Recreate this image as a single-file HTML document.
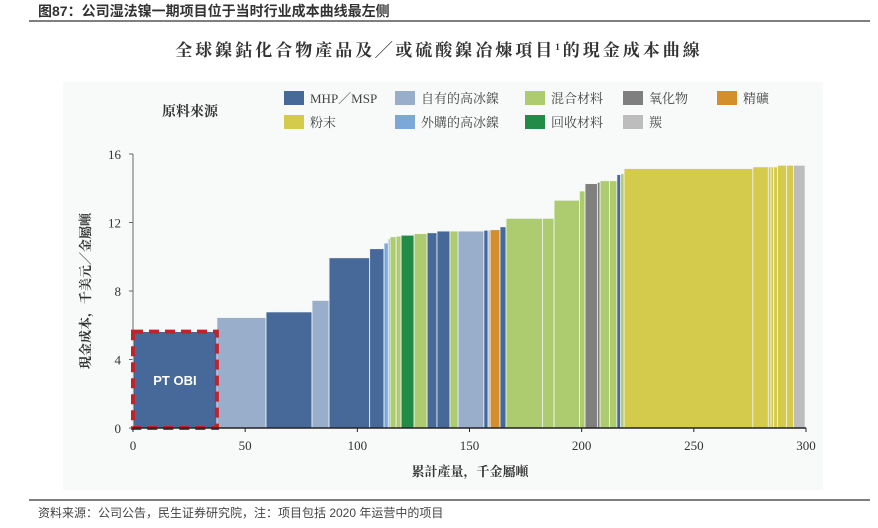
<!DOCTYPE html>
<html><head><meta charset="utf-8"><style>
body{margin:0;width:878px;height:528px;background:#fff;overflow:hidden;font-family:"Liberation Serif","Noto Serif CJK SC",serif;}
svg{position:absolute;left:0;top:0}
</style></head><body>
<svg width="878" height="528">
<text x="38" y="16" font-family="Liberation Sans, Noto Sans CJK SC, sans-serif" font-weight="bold" font-size="14" fill="#333">图87：公司湿法镍一期项目位于当时行业成本曲线最左侧</text>
<line x1="29" y1="21" x2="870" y2="21" stroke="#555" stroke-width="1.5"/>
<text x="439" y="56" text-anchor="middle" font-weight="bold" font-size="17" letter-spacing="3" fill="#333" font-family="Liberation Serif, Noto Serif CJK SC, serif">全球鎳鈷化合物產品及╱或硫酸鎳冶煉項目<tspan font-size="9" dy="-6">1</tspan><tspan dy="6">的現金成本曲線</tspan></text>
<rect x="63" y="82" width="760" height="408" fill="#f8f9f9"/>
<text x="162" y="116" font-weight="bold" font-size="14" fill="#333" font-family="Liberation Serif, Noto Serif CJK SC, serif">原料來源</text>
<g id="legend" font-size="13" fill="#444" font-family="Liberation Serif, Noto Serif CJK SC, serif"></g>
<g id="plot"></g>
<text transform="translate(90,291) rotate(-90)" text-anchor="middle" font-weight="bold" font-size="13" fill="#333" font-family="Liberation Serif, Noto Serif CJK SC, serif">現金成本，千美元／金屬噸</text>
<text x="470" y="476" text-anchor="middle" font-weight="bold" font-size="13" fill="#333" font-family="Liberation Serif, Noto Serif CJK SC, serif">累計產量，千金屬噸</text>
<line x1="29" y1="500" x2="870" y2="500" stroke="#555" stroke-width="1.5"/>
<text x="38" y="517" font-family="Liberation Sans, Noto Sans CJK SC, sans-serif" font-size="12" fill="#444">资料来源：公司公告，民生证券研究院，注：项目包括 2020 年运营中的项目</text>
</svg>
<script>
const types=["MHP／MSP","自有的高冰鎳","混合材料","氧化物","精礦","粉末","外購的高冰鎳","回收材料","羰"];
const colors=["#46699a","#98aecb","#adcb6f","#7f7f7f","#d38f2b","#d4ca4c","#7ba7d9","#218b47","#bdbdbd"];
const barWidths=[37.4,21.9,20.5,7.6,18.1,6.4,1.9,0.8,2.7,2.2,5.8,5.8,4.4,5.8,3.6,11.5,1.9,0.9,4.4,2.7,16.2,5.2,11.3,2.5,5.5,1.2,4.2,3.3,1.7,1.5,57.4,6.9,1.2,1.2,1.7,4.1,3.0,5.2];
const barCosts=[5.63,6.45,6.78,7.45,9.94,10.47,10.8,11.05,11.17,11.2,11.26,11.35,11.4,11.5,11.5,11.5,11.55,11.55,11.58,11.75,12.24,12.24,13.3,13.84,14.27,14.35,14.44,14.44,14.8,14.85,15.15,15.25,15.25,15.25,15.25,15.34,15.34,15.34];
const barTypes=[0,1,0,1,0,0,6,6,2,2,7,2,0,0,2,1,0,1,4,0,2,2,2,2,3,3,2,2,0,2,5,5,5,5,5,5,5,8];
const yTicks=[0,4,8,12,16];
const xTicks=[0,50,100,150,200,250,300];
const NS="http://www.w3.org/2000/svg";
const X0=133,X1=806,Y0=428,Y1=154;
const sx=v=>X0+(v/300)*(X1-X0), sy=v=>Y0-(v/16)*(Y0-Y1);
function mk(tag,attrs,parent){const e=document.createElementNS(NS,tag);for(const k in attrs)e.setAttribute(k,attrs[k]);parent.appendChild(e);return e;}
const plot=document.getElementById('plot'), legend=document.getElementById('legend');
// legend
const lx=[284,395,525,623,717], order=[[0,1,2,3,4],[5,6,7,8]];
order.forEach((row,r)=>row.forEach((t,c)=>{
  const y=r?115:91;
  const s=mk('rect',{x:lx[c],y:y,width:20,height:14,fill:colors[t]},legend);
  
  
  const tx=mk('text',{x:lx[c]+26,y:y+12},legend);tx.textContent=types[t];
  
  
}));
// y axis
const ya=mk('line',{x1:X0,y1:Y1,x2:X0,y2:Y0,stroke:'#666'},plot);


yTicks.forEach(v=>{
  mk('line',{x1:X0-4,x2:X0,y1:sy(v),y2:sy(v),stroke:'#666'},plot);
  const t=mk('text',{x:X0-12,y:sy(v)+5,'text-anchor':'end','font-size':13,fill:'#333'},plot);t.textContent=v;
  
  
});
// bars
let cum=0;
barWidths.forEach((w,i)=>{
  const r=mk('rect',{x:sx(cum),y:sy(barCosts[i]),width:sx(cum+w)-sx(cum),height:Y0-sy(barCosts[i]),fill:colors[barTypes[i]],stroke:'#f4f6f6','stroke-width':0.8},plot);
  
  
  cum+=w;
});
// highlight
const h=mk('rect',{x:sx(0),y:sy(barCosts[0]),width:sx(barWidths[0])-sx(0),height:Y0-sy(barCosts[0]),fill:'none',stroke:'#c0232a','stroke-width':4,'stroke-dasharray':'10,6'},plot);


const hl=mk('text',{x:sx(barWidths[0]/2),y:sy(barCosts[0]/2)+5,'text-anchor':'middle','font-size':13,'font-weight':'bold',fill:'#fff','font-family':'Liberation Sans, sans-serif'},plot);hl.textContent='PT OBI';


// x axis
const xa=mk('line',{x1:X0,y1:Y0,x2:X1,y2:Y0,stroke:'#222','stroke-width':1.5},plot);


xTicks.forEach(v=>{
  mk('line',{x1:sx(v),x2:sx(v),y1:Y0,y2:Y0+4,stroke:'#222'},plot);
  const t=mk('text',{x:sx(v),y:Y0+22,'text-anchor':'middle','font-size':13,fill:'#333'},plot);t.textContent=v;
  
  
});
</script>
</body></html>
